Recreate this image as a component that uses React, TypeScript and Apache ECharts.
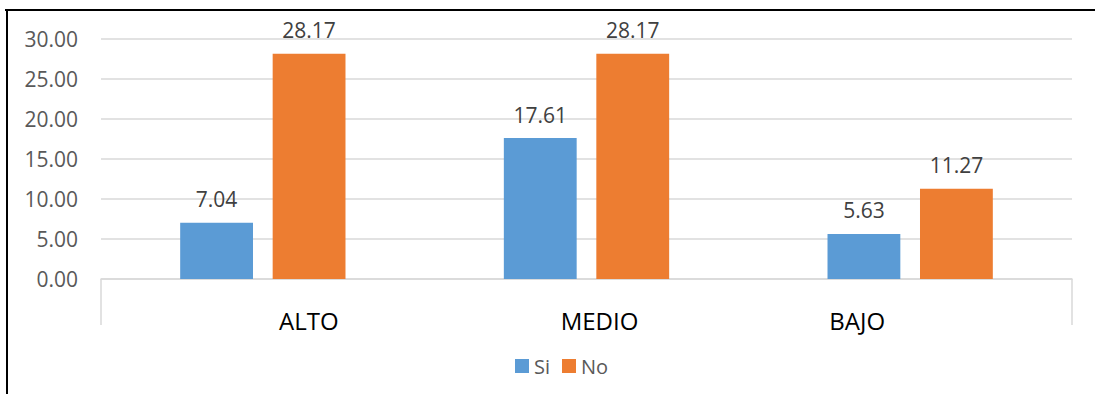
import React, { useEffect, useRef } from "react";
import * as echarts from "echarts";

// Chart data
const categories = ["ALTO", "MEDIO", "BAJO"];
const seriesNames = ["Si", "No"];
const siValues = [7.04, 17.61, 5.63];
const noValues = [28.17, 28.17, 11.27];

// Horizontal nudge (px) of each category label from its band centre
const labelShift = [46, 13, -53];

const FONT = "'Open Sans', 'Liberation Sans', sans-serif";

export default function App() {
  const ref = useRef<HTMLDivElement>(null);

  useEffect(() => {
    if (!ref.current) return;
    const chart = echarts.init(ref.current, undefined, { renderer: "svg" });

    const rich: Record<string, any> = {};
    labelShift.forEach((s, i) => {
      rich["c" + i] = {
        fontSize: 24,
        fontFamily: FONT,
        color: "#000000",
        padding: s >= 0 ? [0, 0, 0, 2 * s] : [0, -2 * s, 0, 0],
      };
    });

    const dataLabel = {
      show: true,
      position: "top",
      distance: 13,
      fontSize: 21,
      fontFamily: FONT,
      color: "#404040",
      formatter: (p: any) => Number(p.value).toFixed(2),
    };

    chart.setOption({
      animation: false,
      backgroundColor: "#ffffff",
      textStyle: { fontFamily: FONT },
      grid: { left: 101, right: 23, top: 39, bottom: 115 },
      legend: {
        data: seriesNames,
        left: 510,
        top: 351,
        icon: "rect",
        itemWidth: 14,
        itemHeight: 14,
        itemGap: 12,
        textStyle: { fontSize: 20, color: "#595959", fontFamily: FONT },
      },
      xAxis: {
        type: "category",
        data: categories,
        boundaryGap: true,
        axisLine: { lineStyle: { color: "#d9d9d9", width: 1.5 } },
        // only the two outer boundary ticks are drawn
        axisTick: {
          show: true,
          length: 46,
          interval: (index: number) => index === 0,
          lineStyle: { color: "#d9d9d9", width: 1.5 },
        },
        axisLabel: {
          margin: 29,
          interval: 0,
          formatter: (v: string) => {
            const i = categories.indexOf(v);
            return `{c${i}|${v}}`;
          },
          rich,
        },
      },
      yAxis: {
        type: "value",
        min: 0,
        max: 30,
        interval: 5,
        axisLine: { show: false },
        axisTick: { show: false },
        splitLine: { lineStyle: { color: "#d9d9d9", width: 1.5 } },
        axisLabel: {
          margin: 23,
          fontSize: 21,
          color: "#595959",
          fontFamily: FONT,
          formatter: (v: number) => v.toFixed(2),
        },
      },
      series: [
        {
          name: seriesNames[0],
          type: "bar",
          data: siValues,
          barWidth: "22.5%",
          barGap: "27%",
          itemStyle: { color: "#5B9BD5" },
          label: dataLabel,
        },
        {
          name: seriesNames[1],
          type: "bar",
          data: noValues,
          barWidth: "22.5%",
          barGap: "27%",
          itemStyle: { color: "#ED7D31" },
          label: dataLabel,
        },
      ],
      graphic: [
        {
          type: "line",
          shape: { x1: 5, y1: 10, x2: 1095, y2: 10 },
          style: { stroke: "#000000", lineWidth: 2 },
          silent: true,
        },
        {
          type: "line",
          shape: { x1: 7, y1: 9, x2: 7, y2: 394 },
          style: { stroke: "#000000", lineWidth: 2 },
          silent: true,
        },
      ],
    });

    return () => chart.dispose();
  }, []);

  return (
    <div
      ref={ref}
      style={{ position: "fixed", left: 0, top: 0, width: 1095, height: 394 }}
    />
  );
}
